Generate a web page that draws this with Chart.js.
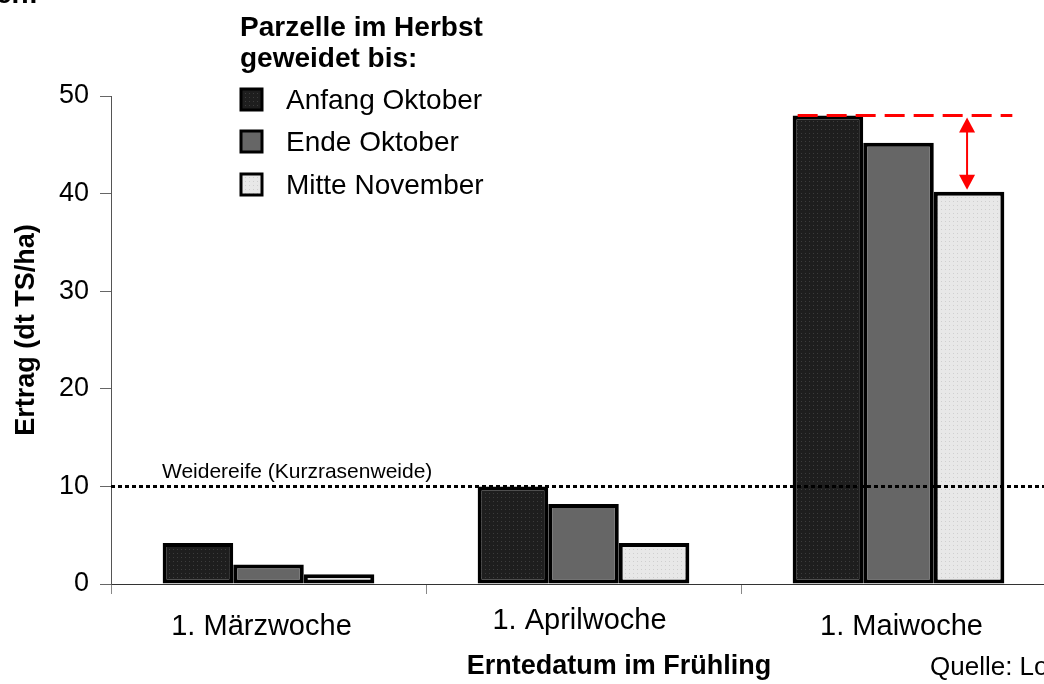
<!DOCTYPE html>
<html>
<head>
<meta charset="utf-8">
<script src="https://cdn.jsdelivr.net/npm/chart.js@4.4.0/dist/chart.umd.min.js"></script>
<style>
    html, body { margin: 0; padding: 0; background: #fff; }
    #wrap { width: 1044px; height: 684px; overflow: hidden; position: relative; }
    canvas { display: block; }
</style>
</head>
<body>
<div id="wrap"><canvas id="chart" width="1064" height="684"></canvas></div>
<script>
const categories = ['1. Märzwoche', '1. Aprilwoche', '1. Maiwoche'];
const seriesNames = ['Anfang Oktober', 'Ende Oktober', 'Mitte November'];
const anfangOktober = [4.2, 10, 48];
const endeOktober = [2, 8.2, 45.2];
const mitteNovember = [1, 4.2, 40.2];
const yTicks = [0, 10, 20, 30, 40, 50];
const thresholdValue = 10;
const thresholdLabel = 'Weidereife (Kurzrasenweide)';
const legendTitle = ['Parzelle im Herbst', 'geweidet bis:'];

const FONT = "'Liberation Sans', Arial, sans-serif";

// dotted fill like the old office charts
function makePattern(base, dot) {
    let c = document.createElement('canvas');
    c.width = 4; c.height = 4;
    let g = c.getContext('2d');
    g.fillStyle = base;
    g.fillRect(0, 0, 4, 4);
    g.fillStyle = dot;
    g.fillRect(1, 1, 1, 1);
    return document.getElementById('chart').getContext('2d').createPattern(c, 'repeat');
}

const fills = [
    makePattern('#1e1e1e', '#3c3c3c'),
    '#666666',
    makePattern('#e8e8e8', '#cfcfcf')
];

const overlay = {
    id: 'overlay',
    afterDatasetsDraw(chart) {
        const ctx = chart.ctx;
        const x = chart.scales.x, y = chart.scales.y;
        const area = chart.chartArea;

        // threshold line
        let ty = y.getPixelForValue(thresholdValue);
        ctx.save();
        ctx.strokeStyle = '#000';
        ctx.lineWidth = 3;
        ctx.setLineDash([4, 3]);
        ctx.beginPath();
        ctx.moveTo(area.left, ty);
        ctx.lineTo(area.right, ty);
        ctx.stroke();
        ctx.setLineDash([]);
        ctx.fillStyle = '#000';
        ctx.font = '21px ' + FONT;
        ctx.textAlign = 'left';
        ctx.textBaseline = 'alphabetic';
        ctx.fillText(thresholdLabel, chart.getDatasetMeta(0).data[0].x - 36, ty - 8);

        // red difference marker on the last group
        let last = categories.length - 1;
        let b0 = chart.getDatasetMeta(0).data[last];
        let b2 = chart.getDatasetMeta(2).data[last];
        let yTop = y.getPixelForValue(anfangOktober[last]);
        let yLow = y.getPixelForValue(mitteNovember[last]);
        ctx.strokeStyle = '#ff0000';
        ctx.fillStyle = '#ff0000';
        ctx.lineWidth = 3;
        ctx.setLineDash([20, 9]);
        ctx.beginPath();
        ctx.moveTo(b0.x - b0.width / 2 + 5, yTop);
        ctx.lineTo(b2.x + b2.width / 2 + 8, yTop);
        ctx.stroke();
        ctx.setLineDash([]);
        let ax = b2.x - 2;
        ctx.lineWidth = 2;
        ctx.beginPath();
        ctx.moveTo(ax, yTop + 12);
        ctx.lineTo(ax, yLow - 12);
        ctx.stroke();
        ctx.beginPath();
        ctx.moveTo(ax, yTop + 2);
        ctx.lineTo(ax - 8, yTop + 17);
        ctx.lineTo(ax + 8, yTop + 17);
        ctx.closePath();
        ctx.fill();
        ctx.beginPath();
        ctx.moveTo(ax, yLow - 2);
        ctx.lineTo(ax - 8, yLow - 17);
        ctx.lineTo(ax + 8, yLow - 17);
        ctx.closePath();
        ctx.fill();
        ctx.restore();
    },
    afterDraw(chart) {
        const ctx = chart.ctx;
        const x = chart.scales.x;
        ctx.save();
        ctx.fillStyle = '#000';

        // category labels (slightly shifted like the original)
        const shift = [-7, -4, 3];
        const rowY = [627, 621, 627];
        ctx.font = '29px ' + FONT;
        ctx.textAlign = 'center';
        ctx.textBaseline = 'middle';
        categories.forEach((c, i) => {
            ctx.fillText(c, x.getPixelForValue(i) + shift[i], rowY[i]);
        });

        // axis titles
        ctx.font = 'bold 27px ' + FONT;
        ctx.fillText('Erntedatum im Frühling', 619, 667);
        ctx.font = '26px ' + FONT;
        ctx.textAlign = 'left';
        ctx.fillText('Quelle: Lo', 930, 668);

        ctx.save();
        ctx.translate(27, 330);
        ctx.rotate(-Math.PI / 2);
        ctx.textAlign = 'center';
        ctx.font = 'bold 27px ' + FONT;
        ctx.fillText('Ertrag (dt TS/ha)', 0, 0);
        ctx.restore();

        // cut off text at the very top
        ctx.font = 'bold 28px ' + FONT;
        ctx.textAlign = 'right';
        ctx.textBaseline = 'alphabetic';
        ctx.fillText('rien:', 38, 3);

        // legend
        ctx.textAlign = 'left';
        ctx.font = 'bold 28px ' + FONT;
        ctx.fillText(legendTitle[0], 240, 36);
        ctx.fillText(legendTitle[1], 240, 67);
        const rows = [100, 142, 185];
        ctx.font = '28px ' + FONT;
        ctx.textBaseline = 'middle';
        seriesNames.forEach((name, i) => {
            ctx.fillStyle = fills[i];
            ctx.fillRect(241, rows[i] - 11, 21, 21);
            ctx.strokeStyle = '#000';
            ctx.lineWidth = 3;
            ctx.strokeRect(241, rows[i] - 11, 21, 21);
            ctx.fillStyle = '#000';
            ctx.fillText(name, 286, rows[i] + 1);
        });
        ctx.restore();
    }
};

new Chart(document.getElementById('chart'), {
    type: 'bar',
    data: {
        labels: categories,
        datasets: [
            { label: seriesNames[0], data: anfangOktober, backgroundColor: fills[0] },
            { label: seriesNames[1], data: endeOktober, backgroundColor: fills[1] },
            { label: seriesNames[2], data: mitteNovember, backgroundColor: fills[2] }
        ]
    },
    options: {
        responsive: false,
        animation: false,
        layout: { padding: { top: 96, right: 8, left: 0, bottom: 0 } },
        datasets: {
            bar: {
                borderColor: '#000',
                borderWidth: 4,
                borderSkipped: false,
                categoryPercentage: 0.672,
                barPercentage: 1.0
            }
        },
        plugins: {
            legend: { display: false },
            tooltip: { enabled: false }
        },
        scales: {
            x: {
                offset: true,
                grid: { display: true, drawOnChartArea: false, offset: true, tickLength: 10, color: '#888', lineWidth: 1 },
                border: { color: '#333', width: 1 },
                ticks: { display: false },
                afterFit(scale) { scale.height = 100; }
            },
            y: {
                min: 0,
                max: 50,
                afterBuildTicks(scale) { scale.ticks = yTicks.map(v => ({ value: v })); },
                ticks: { color: '#000', font: { family: FONT, size: 27 }, padding: 11 },
                grid: { drawOnChartArea: false, tickLength: 11, color: '#666' },
                border: { color: '#555', width: 1 },
                afterFit(scale) { scale.width = 111; }
            }
        }
    },
    plugins: [overlay]
});
</script>
</body>
</html>
